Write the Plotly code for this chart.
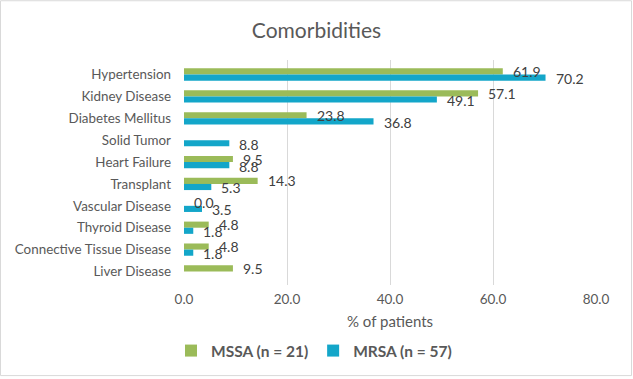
import plotly.graph_objects as go

categories = ["Hypertension", "Kidney Disease", "Diabetes Mellitus", "Solid Tumor",
              "Heart Failure", "Transplant", "Vascular Disease", "Thyroid Disease",
              "Connective Tissue Disease", "Liver Disease"]
mssa = [61.9, 57.1, 23.8, None, 9.5, 14.3, 0.0, 4.8, 4.8, 9.5]
mrsa = [70.2, 49.1, 36.8, 8.8, 8.8, 5.3, 3.5, 1.8, 1.8, None]
series_names = ["MSSA (n = 21)", "MRSA (n = 57)"]
colors = ["#9BBB59", "#13A6C9"]
x_ticks = [0, 20, 40, 60, 80]

W, H = 633, 379
ML, MR, MT, MB = 184, 37, 60, 93
PW, PH = W - ML - MR, H - MT - MB

FONT = "Lato"
LABEL_SHIFT = [3, -4]   # vertical pixel shift of value labels per series

fig = go.Figure()
annotations = []
for i, (name, vals, col) in enumerate(zip(series_names, [mssa, mrsa], colors)):
    fig.add_trace(go.Bar(
        y=categories, x=vals, name=name, orientation="h",
        marker=dict(color=col, line=dict(width=0)),
    ))
    for cat, v in zip(categories, vals):
        if v is None:
            continue
        annotations.append(dict(
            x=v, y=cat, xref="x", yref="y", text=f"{v:.1f}", showarrow=False,
            xanchor="left", yanchor="middle", xshift=8,
            yshift=LABEL_SHIFT[i],
            font=dict(family=FONT, size=14, color="#404040"),
        ))

fig.update_layout(
    width=W, height=H,
    margin=dict(l=ML, r=MR, t=MT, b=MB),
    paper_bgcolor="white", plot_bgcolor="white",
    barmode="group", bargap=0.44, bargroupgap=0,
    font=dict(family=FONT, color="#595959"),
    title=dict(text="Comorbidities", x=0.5, xref="container", xanchor="center",
               y=1 - 31 / H, yanchor="middle", yref="container",
               font=dict(family=FONT, size=21, color="#595959")),
    xaxis=dict(range=[0, 80], tickvals=x_ticks, tickformat=".1f",
               showgrid=True, gridcolor="#D9D9D9", gridwidth=1,
               zeroline=False, showline=False,
               tickfont=dict(family=FONT, size=13.5, color="#595959"),
               ticklabelstandoff=4,
               title=dict(text="% of patients", standoff=10,
                          font=dict(family=FONT, size=15, color="#595959"))),
    yaxis=dict(autorange="reversed", showgrid=False, zeroline=False,
               showline=False, ticklabelstandoff=12,
               tickfont=dict(family=FONT, size=13.4, color="#595959")),
    legend=dict(orientation="h", x=(171 - ML) / PW, xanchor="left",
                y=(MT + PH - 351) / PH, yanchor="middle",
                traceorder="normal", itemwidth=30,
                font=dict(family=FONT, size=15.5, color="#595959", weight="bold")),
    annotations=annotations,
    shapes=[dict(type="rect", xref="paper", yref="paper",
                 x0=(0.5 - ML) / PW, x1=(W - 1.5 - ML) / PW,
                 y0=(MT + PH - (H - 2)) / PH, y1=(MT + PH - 0.5) / PH,
                 line=dict(color="#D9D9D9", width=1), fillcolor="rgba(0,0,0,0)",
                 layer="below")],
)

fig.write_html("out.html")
